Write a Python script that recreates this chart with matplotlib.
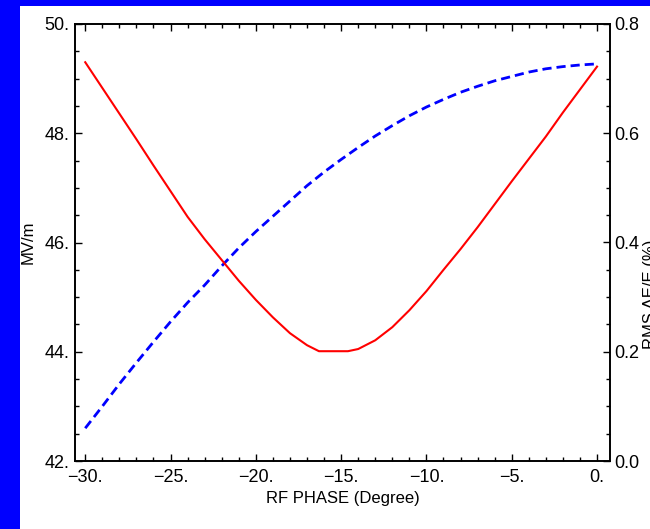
import numpy as np
import matplotlib
matplotlib.use("Agg")
import matplotlib.pyplot as plt
from matplotlib.patches import Rectangle
from matplotlib.ticker import MultipleLocator, FuncFormatter

plt.rcParams['font.family'] = ['Liberation Sans', 'DejaVu Sans']

# data
phase = [-30, -29, -28, -27, -26, -25, -24, -23, -22, -21, -20,
         -19, -18, -17, -16, -15, -14, -13, -12, -11, -10,
         -9, -8, -7, -6, -5, -4, -3, -2, -1, 0]
gain = [42.60, 43.00, 43.41, 43.80, 44.18, 44.55, 44.90, 45.22, 45.57, 45.90, 46.20,
        46.48, 46.76, 47.04, 47.29, 47.52, 47.74, 47.95, 48.14, 48.32, 48.48,
        48.62, 48.75, 48.86, 48.96, 49.04, 49.12, 49.18, 49.22, 49.25, 49.27]

phase_rms = [-30, -29, -28, -27, -26, -25, -24, -23, -22, -21, -20,
             -19, -18, -17, -16.3, -14.6, -14, -13, -12, -11, -10,
             -9, -8, -7, -6, -5, -4, -3, -2, -1, 0]
rms = [0.730, 0.683, 0.636, 0.589, 0.541, 0.494, 0.447, 0.406, 0.368, 0.330, 0.295,
       0.263, 0.234, 0.212, 0.201, 0.201, 0.205, 0.221, 0.245, 0.276, 0.311,
       0.350, 0.388, 0.428, 0.470, 0.512, 0.553, 0.594, 0.638, 0.680, 0.722]

fig = plt.figure(figsize=(6.5, 5.29), dpi=100, facecolor='#0000ff')
fig.add_artist(Rectangle((20/650, 0), 1, 523/529, transform=fig.transFigure,
                         facecolor='white', edgecolor='none', zorder=0))

ax = fig.add_axes([75/650, 68/529, 535/650, 437/529])
ax2 = ax.twinx()

ax.plot(phase, gain, color='#0000ff', lw=2.0, ls=(0, (3.3, 1.8)))
ax2.plot(phase_rms, rms, color='#ff0000', lw=1.5)

ax.set_xlim(-30.6, 0.76)
ax.set_ylim(42, 50)
ax2.set_ylim(0, 0.8)

def fmt_dot(v, pos):
    s = '%g.' % v
    return s.replace('-', '\u2212')

ax.xaxis.set_major_locator(MultipleLocator(5))
ax.xaxis.set_minor_locator(MultipleLocator(1))
ax.yaxis.set_major_locator(MultipleLocator(2))
ax.yaxis.set_minor_locator(MultipleLocator(0.5))
ax2.yaxis.set_major_locator(MultipleLocator(0.2))
ax2.yaxis.set_minor_locator(MultipleLocator(0.05))
ax.xaxis.set_major_formatter(FuncFormatter(fmt_dot))
ax.yaxis.set_major_formatter(FuncFormatter(fmt_dot))
ax2.yaxis.set_major_formatter(FuncFormatter(lambda v, p: '%.1f' % v))

ax.tick_params(which='both', direction='in', top=True, right=False, labelsize=13, width=1)
ax.tick_params(which='major', length=5)
ax.tick_params(which='minor', length=3)
ax.tick_params(axis='x', pad=6)
ax.tick_params(axis='y', pad=4)
ax2.tick_params(which='both', direction='in', labelsize=13, width=1, pad=3)
ax2.tick_params(which='major', length=5)
ax2.tick_params(which='minor', length=3)

for a in (ax, ax2):
    for s in a.spines.values():
        s.set_linewidth(1.2)

ax.set_xlabel('RF PHASE (Degree)', fontsize=12, labelpad=3)
ax.set_ylabel('MV/m', fontsize=12, labelpad=6)
fig.text(643/650, 235/529, 'RMS ΔE/E (%)', rotation=90, ha='left', va='center', fontsize=12)

fig.savefig('out.png', dpi=100, facecolor=fig.get_facecolor())
